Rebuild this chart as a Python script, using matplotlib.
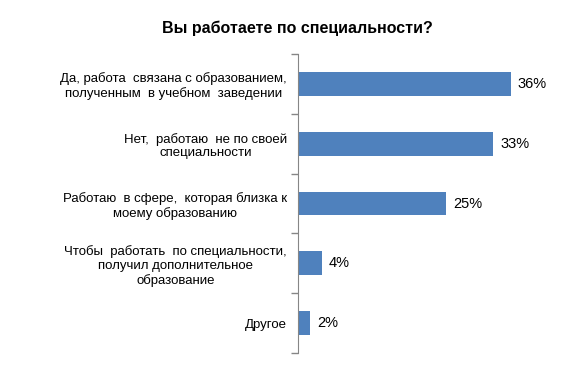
import numpy as np
from matplotlib import pyplot as plt

plt.rcParams['font.family'] = ['Liberation Sans', 'DejaVu Sans']

categorias = [
    "Да, работа  связана с образованием,\nполученным  в учебном  заведении",
    "Нет,  работаю  не по своей\nспециальности",
    "Работаю  в сфере,  которая близка к\nмоему образованию",
    "Чтобы  работать  по специальности,\nполучил дополнительное\nобразование",
    "Другое",
]
valores = [36, 33, 25, 4, 2]
etiquetas = ["36%", "33%", "25%", "4%", "2%"]

fig = plt.figure(figsize=(5.63, 3.68), dpi=100)
ax = fig.add_axes([298/563, 1-353/368, 0.42, (353-54)/368])

y = np.arange(len(valores))
ax.barh(y, valores, height=0.4, color='#4F81BD')
ax.set_ylim(len(valores)-0.5, -0.5)
ax.set_xlim(0, 40)

ax.set_yticks(y)
ax.set_yticklabels(categorias, fontsize=9.5, ha='right', multialignment='center',
                   linespacing=1.2)
ax.tick_params(axis='y', which='major', length=0, pad=8)
ax.set_yticks(np.arange(-0.5, len(valores), 1), minor=True)
ax.tick_params(axis='y', which='minor', length=5, width=1, color='#868686')
ax.set_xticks([])

for s in ['top', 'right', 'bottom']:
    ax.spines[s].set_visible(False)
ax.spines['left'].set_color('#868686')

for i, v in enumerate(valores):
    ax.text(v + 1.2, i, etiquetas[i], va='center', ha='left', fontsize=10.5)

fig.text(297/563, 1-28/368, "Вы работаете по специальности?", ha='center', va='center',
         fontsize=11.5, fontweight='bold')

fig.savefig("out.png", dpi=100)
